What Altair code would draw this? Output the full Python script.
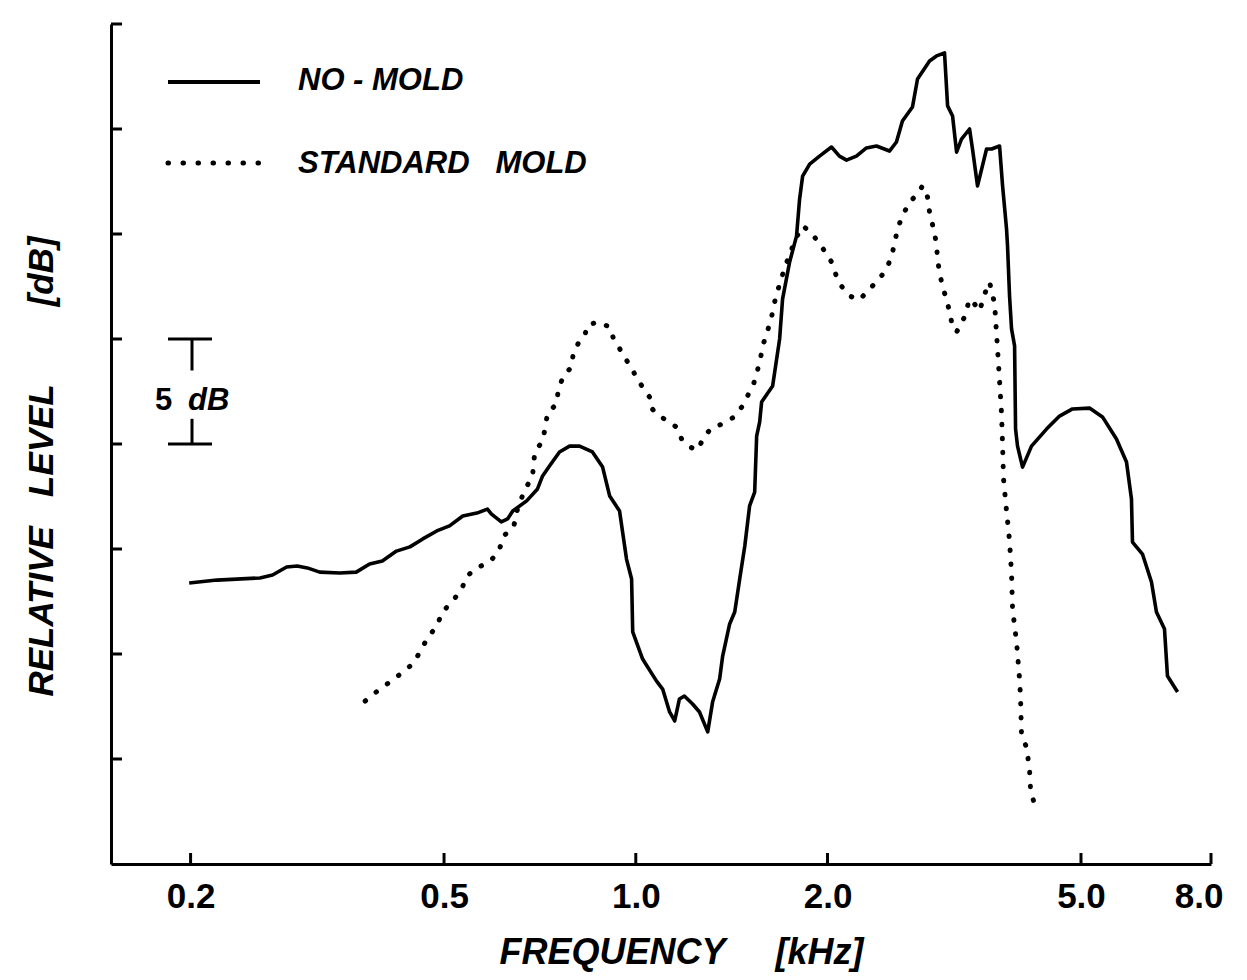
import altair as alt
import pandas as pd

# ---- data (frequency in kHz, relative level in dB) ----
no_mold_khz = [0.199, 0.220, 0.257, 0.269, 0.283, 0.294, 0.305, 0.319, 0.343, 0.364,
               0.382, 0.400, 0.421, 0.442, 0.463, 0.487, 0.510, 0.535, 0.563, 0.585,
               0.593, 0.615, 0.629, 0.641, 0.674, 0.701, 0.714, 0.732, 0.759, 0.787,
               0.816, 0.855, 0.887, 0.910, 0.943, 0.967, 0.985, 0.989, 1.025, 1.078,
               1.102, 1.130, 1.151, 1.171, 1.192, 1.228, 1.259, 1.297, 1.320, 1.354,
               1.369, 1.404, 1.430, 1.456, 1.483, 1.509, 1.537, 1.548, 1.565, 1.576,
               1.640, 1.682, 1.700, 1.744, 1.788, 1.808, 1.828, 1.875, 1.943, 2.029,
               2.088, 2.142, 2.220, 2.302, 2.387, 2.502, 2.566, 2.622, 2.719, 2.769,
               2.892, 2.966, 3.053, 3.087, 3.143, 3.189, 3.246, 3.342, 3.378, 3.440,
               3.554, 3.619, 3.725, 3.766, 3.820, 3.834, 3.862, 3.890, 3.933, 3.947,
               3.975, 4.048, 4.181, 4.414, 4.627, 4.849, 5.156, 5.404, 5.684, 5.894,
               6.001, 6.023, 6.244, 6.451, 6.568, 6.762, 6.835, 7.089]
no_mold_db = [13.38, 13.52, 13.62, 13.76, 14.14, 14.19, 14.10, 13.90, 13.86, 13.90,
              14.29, 14.43, 14.90, 15.10, 15.48, 15.86, 16.10, 16.57, 16.71, 16.90,
              16.67, 16.29, 16.43, 16.81, 17.29, 17.86, 18.48, 18.95, 19.62, 19.90,
              19.90, 19.62, 18.90, 17.52, 16.81, 14.52, 13.57, 11.05, 9.76, 8.71,
              8.33, 7.24, 6.81, 7.86, 8.00, 7.62, 7.24, 6.29, 7.71, 8.81,
              9.90, 11.43, 12.00, 13.57, 15.14, 17.05, 17.71, 20.38, 21.05, 22.00,
              22.76, 25.00, 26.90, 28.67, 29.90, 31.67, 32.76, 33.33, 33.71, 34.14,
              33.71, 33.52, 33.71, 34.10, 34.19, 33.95, 34.38, 35.38, 36.05, 37.38,
              38.24, 38.48, 38.62, 36.10, 35.62, 33.90, 34.52, 35.00, 34.05, 32.29,
              34.05, 34.05, 34.19, 32.29, 30.24, 29.43, 27.05, 25.48, 24.67, 20.71,
              19.90, 18.90, 19.90, 20.71, 21.33, 21.67, 21.71, 21.29, 20.24, 19.14,
              17.38, 15.33, 14.76, 13.43, 12.00, 11.19, 8.95, 8.19]

standard_khz = [0.376, 0.393, 0.409, 0.431, 0.448, 0.460, 0.471, 0.487, 0.497, 0.516,
                0.533, 0.543, 0.563, 0.589, 0.609, 0.620, 0.643, 0.652, 0.669, 0.688,
                0.691, 0.694, 0.714, 0.721, 0.727, 0.751, 0.756, 0.770, 0.793, 0.798,
                0.813, 0.831, 0.840, 0.874, 0.910, 0.923, 0.946, 0.964, 0.985, 1.003,
                1.025, 1.051, 1.055, 1.082, 1.122, 1.158, 1.180, 1.215, 1.250, 1.282,
                1.320, 1.369, 1.419, 1.467, 1.498, 1.531, 1.553, 1.571, 1.582, 1.610,
                1.634, 1.646, 1.664, 1.688, 1.719, 1.757, 1.795, 1.828, 1.875, 1.929,
                1.979, 2.029, 2.065, 2.103, 2.165, 2.245, 2.327, 2.413, 2.484, 2.520,
                2.548, 2.575, 2.622, 2.690, 2.769, 2.819, 2.871, 2.892, 2.934, 2.966,
                2.976, 2.998, 3.031, 3.075, 3.109, 3.132, 3.189, 3.282, 3.342, 3.403,
                3.465, 3.529, 3.593, 3.659, 3.685, 3.698, 3.725, 3.752, 3.766, 3.779,
                3.820, 3.862, 3.890, 3.904, 3.961, 4.004, 4.018, 4.033, 4.106, 4.151,
                4.166, 4.212]
standard_db = [7.76, 8.24, 8.62, 9.14, 9.57, 10.19, 10.76, 11.33, 12.00, 12.52,
               13.10, 13.71, 14.10, 14.38, 14.86, 15.62, 16.05, 16.90, 17.81, 18.43,
               18.95, 19.62, 20.14, 20.81, 21.48, 21.90, 22.62, 23.24, 23.67, 24.38,
               24.81, 25.14, 25.67, 25.81, 25.57, 25.00, 24.48, 24.05, 23.62, 23.14,
               22.71, 22.24, 21.76, 21.38, 21.10, 20.81, 20.24, 19.86, 19.71, 20.38,
               20.81, 20.95, 21.24, 21.76, 22.29, 22.86, 23.52, 24.14, 24.67, 25.38,
               26.05, 26.57, 27.14, 27.76, 28.52, 29.29, 29.95, 30.38, 30.14, 29.67,
               29.19, 28.67, 28.00, 27.52, 27.05, 26.86, 27.38, 27.86, 28.43, 28.95,
               29.52, 30.24, 30.86, 31.52, 31.90, 32.29, 31.76, 31.05, 30.24, 29.52,
               28.81, 28.19, 27.48, 26.90, 26.29, 25.81, 25.33, 26.05, 26.90, 26.67,
               26.33, 27.14, 27.71, 26.67, 25.24, 24.52, 23.00, 21.43, 19.90, 18.33,
               16.81, 15.38, 13.81, 12.14, 10.57, 8.81, 7.95, 6.10, 5.57, 4.52,
               3.57, 3.00]

x_tick_values = [0.2, 0.5, 1.0, 2.0, 5.0, 8.0]
y_tick_values = [5, 10, 15, 20, 25, 30, 35, 40]
NB = "\u00a0"
legend_labels = ["NO - MOLD", "STANDARD" + NB * 3 + "MOLD"]
x_title = "FREQUENCY" + NB * 5 + "[kHz]"
y_title = "RELATIVE" + NB * 3 + "LEVEL" + NB * 8 + "[dB]"
scale_bar_db = [20, 25]   # the "5 dB" bar

W, H = 1100, 840
FONT = "Liberation Sans"

solid_df = pd.DataFrame({"f": no_mold_khz, "db": no_mold_db, "i": list(range(len(no_mold_khz)))})
dot_df = pd.DataFrame({"f": standard_khz, "db": standard_db, "i": list(range(len(standard_khz)))})
xt_df = pd.DataFrame({"f": x_tick_values})
yt_df = pd.DataFrame({"db": y_tick_values})
one = pd.DataFrame({"k": [0]})

xscale = alt.Scale(type="log", domain=[0.15, 8.0], nice=False)
yscale = alt.Scale(domain=[0, 40], nice=False, zero=False)

xaxis = alt.Axis(values=x_tick_values, format=".1f", grid=False,
                 ticks=False, tickSize=0, labelPadding=15,
                 labelFont=FONT, labelFontSize=35, labelFontWeight="bold", labelColor="black",
                 labelFlush=1, labelFlushOffset=12,
                 domainColor="black", domainWidth=3,
                 title=x_title, titleFont=FONT, titleFontSize=36,
                 titleFontWeight="bold", titleFontStyle="italic", titleColor="black",
                 titleX=570, titleY=88, titleBaseline="middle", titleAlign="center")
yaxis = alt.Axis(labels=False, ticks=False, tickSize=0, grid=False,
                 domainColor="black", domainWidth=3,
                 title=y_title, titleFont=FONT, titleFontSize=35,
                 titleFontWeight="bold", titleFontStyle="italic", titleColor="black",
                 titleX=-70, titleY=442, titleBaseline="middle", titleAlign="center")

solid = alt.Chart(solid_df).mark_line(color="black", strokeWidth=3.6, strokeJoin="round").encode(
    x=alt.X("f:Q", scale=xscale, axis=xaxis),
    y=alt.Y("db:Q", scale=yscale, axis=yaxis),
    order=alt.Order("i:Q"),
)
dotted = alt.Chart(dot_df).mark_line(color="black", strokeWidth=5, strokeCap="round",
                                     strokeDash=[0.5, 13.5]).encode(
    x=alt.X("f:Q"), y=alt.Y("db:Q"), order=alt.Order("i:Q"),
)

# inward tick marks
yticks = alt.Chart(yt_df).mark_rule(color="black", strokeWidth=3).encode(
    y=alt.Y("db:Q"), x=alt.value(0), x2=alt.value(11))
xticks = alt.Chart(xt_df).mark_rule(color="black", strokeWidth=3).encode(
    x=alt.X("f:Q"), y=alt.value(H), y2=alt.value(H - 11))

# 5 dB scale bar
bar_caps = alt.Chart(pd.DataFrame({"db": scale_bar_db})).mark_rule(color="black", strokeWidth=3).encode(
    y=alt.Y("db:Q"), x=alt.value(57), x2=alt.value(101))
bar_top = alt.Chart(one).mark_rule(color="black", strokeWidth=3).encode(
    x=alt.value(81), y=alt.datum(scale_bar_db[1]), y2=alt.datum(23.5))
bar_bot = alt.Chart(one).mark_rule(color="black", strokeWidth=3).encode(
    x=alt.value(81), y=alt.datum(scale_bar_db[0]), y2=alt.datum(21.2))
bar_5 = alt.Chart(one).mark_text(font=FONT, fontSize=31, fontWeight="bold", color="black",
                                  align="left", baseline="middle").encode(
    x=alt.value(44), y=alt.value(377), text=alt.value("5"))
bar_db = alt.Chart(one).mark_text(font=FONT, fontSize=31, fontWeight="bold", fontStyle="italic",
                                   color="black", align="left", baseline="middle").encode(
    x=alt.value(77), y=alt.value(377), text=alt.value("dB"))

# legend drawn inside the plot
leg_solid = alt.Chart(one).mark_rule(color="black", strokeWidth=4).encode(
    x=alt.value(57), x2=alt.value(149), y=alt.value(58))
leg_dot = alt.Chart(one).mark_rule(color="black", strokeWidth=5, strokeCap="round",
                                   strokeDash=[0.5, 14.5]).encode(
    x=alt.value(57), x2=alt.value(149), y=alt.value(139))
leg_t1 = alt.Chart(one).mark_text(font=FONT, fontSize=31, fontWeight="bold", fontStyle="italic",
                                   color="black", align="left", baseline="middle").encode(
    x=alt.value(187), y=alt.value(57), text=alt.value(legend_labels[0]))
leg_t2 = alt.Chart(one).mark_text(font=FONT, fontSize=31, fontWeight="bold", fontStyle="italic",
                                   color="black", align="left", baseline="middle").encode(
    x=alt.value(187), y=alt.value(140), text=alt.value(legend_labels[1]))

chart = alt.layer(
    solid, dotted, yticks, xticks, bar_caps, bar_top, bar_bot, bar_5, bar_db,
    leg_solid, leg_dot, leg_t1, leg_t2,
).properties(
    width=W, height=H,
    autosize=alt.AutoSizeParams(type="none"),
    padding={"left": 103, "top": 16, "right": 22, "bottom": 110},
    background="white",
).configure_view(strokeWidth=0)

chart.save("out.html", embed_options={"renderer": "svg", "actions": False})
